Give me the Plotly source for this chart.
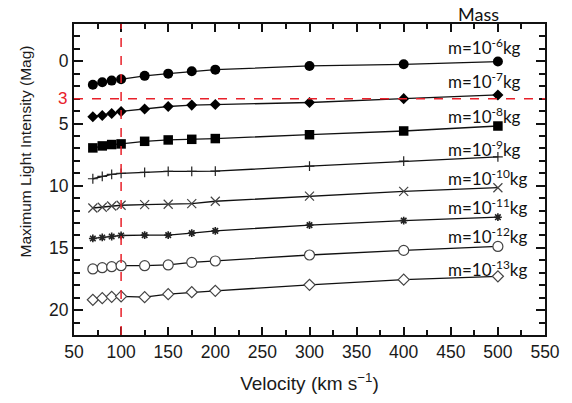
import plotly.graph_objects as go

# ---- data ----
velocity = [70, 80, 90, 100, 125, 150, 175, 200, 300, 400, 500]
mass_labels = ["m=10<sup>-6</sup>kg", "m=10<sup>-7</sup>kg", "m=10<sup>-8</sup>kg",
               "m=10<sup>-9</sup>kg", "m=10<sup>-10</sup>kg", "m=10<sup>-11</sup>kg",
               "m=10<sup>-12</sup>kg", "m=10<sup>-13</sup>kg"]
mag_1e6 = [1.89, 1.68, 1.55, 1.44, 1.17, 0.99, 0.80, 0.67, 0.37, 0.24, 0.02]
mag_1e7 = [4.45, 4.35, 4.19, 4.03, 3.84, 3.63, 3.52, 3.47, 3.31, 3.00, 2.70]
mag_1e8 = [6.96, 6.80, 6.69, 6.64, 6.43, 6.32, 6.27, 6.21, 5.90, 5.60, 5.20]
mag_1e9 = [9.44, 9.25, 9.09, 9.01, 8.93, 8.85, 8.85, 8.83, 8.43, 8.03, 7.68]
mag_1e10 = [11.79, 11.73, 11.63, 11.57, 11.52, 11.49, 11.44, 11.25, 10.83, 10.45, 10.16]
mag_1e11 = [14.24, 14.16, 14.08, 14.00, 13.97, 13.97, 13.81, 13.63, 13.17, 12.80, 12.53]
mag_1e12 = [16.69, 16.59, 16.51, 16.43, 16.43, 16.37, 16.16, 16.05, 15.57, 15.20, 14.88]
mag_1e13 = [19.17, 19.04, 18.93, 18.90, 18.96, 18.72, 18.56, 18.45, 17.97, 17.55, 17.28]
x_ticks = [50, 100, 150, 200, 250, 300, 350, 400, 450, 500, 550]
y_ticks = [0, 5, 10, 15, 20]
limit_velocity = 100
limit_mag = 3

series = [mag_1e6, mag_1e7, mag_1e8, mag_1e9, mag_1e10, mag_1e11, mag_1e12, mag_1e13]

# ---- styles ----
# (symbol, size, fill colour, outline colour, outline width)
marker_styles = [
    ("circle", 10, "#000000", "#000000", 0),
    ("diamond", 8.5, "#000000", "#000000", 0),
    ("square", 9.5, "#000000", "#000000", 0),
    ("cross-thin", 7, "#222222", "#222222", 1.2),
    ("x-thin", 9, "#444444", "#444444", 1.2),
    ("asterisk-open", 6.5, "#222222", "#222222", 1.6),
    ("circle", 10, "#ffffff", "#444444", 1.2),
    ("diamond", 8.5, "#ffffff", "#444444", 1.2),
]
label_y = [-1.2, 1.57, 4.37, 7.04, 9.3, 11.7, 14.03, 16.64]
label_x = 445

fig = go.Figure()
for vals, (sym, sz, fill, edge, ew) in zip(series, marker_styles):
    fig.add_trace(go.Scatter(
        x=velocity, y=vals, mode="lines+markers",
        line=dict(color="#111111", width=1.3),
        marker=dict(symbol=sym, size=sz, color=fill, line=dict(color=edge, width=ew)),
        showlegend=False, cliponaxis=False,
    ))

for lab, ly in zip(mass_labels, label_y):
    fig.add_annotation(x=label_x, y=ly, text=lab, showarrow=False, xanchor="left",
                       yanchor="middle", font=dict(family="Lato", size=17, color="#111111"))

fig.add_annotation(x=0.858, y=1.0, xref="paper", yref="paper", yshift=10, text="Mass",
                   showarrow=False, xanchor="center", yanchor="middle",
                   font=dict(family="Lato", size=18, color="#111111"))

# red dashed reference lines
fig.add_shape(type="line", x0=limit_velocity, x1=limit_velocity, y0=0, y1=1,
              xref="x", yref="paper", line=dict(color="#e8202a", width=1.5, dash="dash"))
fig.add_shape(type="line", x0=0, x1=1, y0=limit_mag, y1=limit_mag,
              xref="paper", yref="y", line=dict(color="#e8202a", width=1.5, dash="dash"))
fig.add_annotation(x=0, y=limit_mag, xref="paper", yref="y", text=str(limit_mag),
                   showarrow=False, xanchor="right", xshift=-5, yanchor="middle",
                   font=dict(family="Liberation Sans", size=17, color="#e8202a"))

fig.add_annotation(x=-0.102, y=0.5, xref="paper", yref="paper", yshift=28,
                   text="Maximum Light Intensity (Mag)", textangle=-90, showarrow=False,
                   xanchor="center", yanchor="middle",
                   font=dict(family="Liberation Sans", size=15.5, color="#1a1a1a"))

fig.update_xaxes(range=[50, 550], tickvals=x_ticks, ticks="inside", ticklen=8,
                 tickwidth=1.5, tickcolor="#111111", showline=True, linecolor="#111111",
                 linewidth=2, mirror="ticks", showgrid=False, zeroline=False,
                 minor=dict(dtick=25, tick0=50, ticks="inside", ticklen=5, tickwidth=1.5,
                            tickcolor="#111111", showgrid=False),
                 tickfont=dict(family="Liberation Sans", size=17.5, color="#1a1a1a"),
                 title=dict(text="Velocity (km s<sup>−1</sup>)", standoff=16,
                            font=dict(family="Liberation Sans", size=19, color="#1a1a1a")))
fig.update_yaxes(range=[22, -3], tickvals=y_ticks, ticks="inside", ticklen=9,
                 tickwidth=1.5, tickcolor="#111111", showline=True, linecolor="#111111",
                 linewidth=2, mirror="ticks", showgrid=False, zeroline=False,
                 minor=dict(dtick=1, tick0=0, ticks="inside", ticklen=6, tickwidth=1.5,
                            tickcolor="#111111", showgrid=False),
                 tickfont=dict(family="Liberation Sans", size=17.5, color="#1a1a1a"))

fig.update_layout(width=572, height=403, margin=dict(l=74, r=16, t=24, b=66),
                  plot_bgcolor="white", paper_bgcolor="white", hovermode=False)

fig.write_html("out.html", config={"displayModeBar": False},
               post_script="document.body.style.margin='0';document.body.style.overflow='hidden';")
